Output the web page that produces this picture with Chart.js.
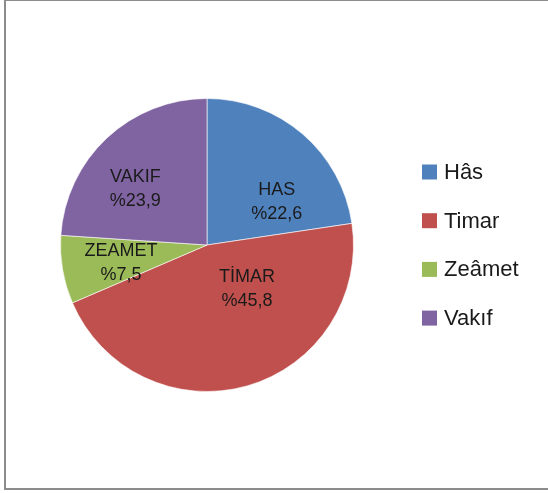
<!DOCTYPE html>
<html>
<head>
<meta charset="utf-8">
<script src="https://cdn.jsdelivr.net/npm/chart.js@4/dist/chart.umd.min.js"></script>
<style>
  html, body { margin: 0; padding: 0; background: #fff; }
  #wrap { position: relative; width: 548px; height: 493px; overflow: hidden; }
  #frame { position: absolute; left: 4px; top: -1px; width: 560px; height: 491px;
           border: 2px solid #8c8c8c; box-sizing: border-box; }
  canvas { position: absolute; left: 0; top: 0; }
</style>
</head>
<body>
<div id="wrap">
  <div id="frame"></div>
  <canvas id="pasta" width="548" height="493"></canvas>
</div>
<script>
// veriler
const kategoriler = ['Hâs', 'Timar', 'Zeâmet', 'Vakıf'];
const etiketler = ['HAS', 'TİMAR', 'ZEAMET', 'VAKIF'];
const oranlar = [22.6, 45.8, 7.5, 23.9];
const renkler = ['#4F81BD', '#C0504D', '#9BBB59', '#8064A2'];

// dilim etiketlerinin merkezden uzaklığı (yarıçap oranı) ve açısal kayma (derece)
const etiketYeri = [
  { r: 0.56, a: 17.6 },
  { r: 0.405, a: -26.4 },
  { r: 0.60, a: -2 },
  { r: 0.62, a: -9 }
];

const yaziTipi = '"Liberation Sans", Arial, sans-serif';

const etiketEklentisi = {
  id: 'etiketler',
  afterDatasetsDraw(chart) {
    const ctx = chart.ctx;
    const meta = chart.getDatasetMeta(0);
    ctx.save();
    ctx.fillStyle = '#1a1a1a';
    ctx.font = '18px ' + yaziTipi;
    ctx.textAlign = 'center';
    ctx.textBaseline = 'middle';
    meta.data.forEach((arc, i) => {
      const p = arc.getProps(['x', 'y', 'startAngle', 'endAngle', 'outerRadius'], true);
      const aci = (p.startAngle + p.endAngle) / 2 + etiketYeri[i].a * Math.PI / 180;
      const r = p.outerRadius * etiketYeri[i].r;
      const x = p.x + Math.cos(aci) * r;
      const y = p.y + Math.sin(aci) * r;
      ctx.fillText(etiketler[i], x, y - 12);
      ctx.fillText('%' + oranlar[i].toFixed(1).replace('.', ','), x, y + 12);
    });
    ctx.restore();
  }
};

const lejantEklentisi = {
  id: 'lejant',
  afterDraw(chart) {
    const ctx = chart.ctx;
    ctx.save();
    ctx.font = '22px ' + yaziTipi;
    ctx.textBaseline = 'middle';
    kategoriler.forEach((ad, i) => {
      const y = 172 + i * 48.7;
      ctx.fillStyle = renkler[i];
      ctx.fillRect(422, y - 7.5, 15, 15);
      ctx.fillStyle = '#1a1a1a';
      ctx.fillText(ad, 444, y + 1);
    });
    ctx.restore();
  }
};

const ctx = document.getElementById('pasta').getContext('2d');
new Chart(ctx, {
  type: 'pie',
  data: {
    labels: kategoriler,
    datasets: [{
      data: oranlar,
      backgroundColor: renkler,
      borderColor: 'rgba(255,255,255,0.6)',
      borderWidth: 1
    }]
  },
  options: {
    responsive: false,
    animation: false,
    layout: { padding: { left: 60, right: 194, top: 98, bottom: 101 } },
    plugins: {
      legend: { display: false },
      tooltip: { enabled: false }
    }
  },
  plugins: [etiketEklentisi, lejantEklentisi]
});
</script>
</body>
</html>
